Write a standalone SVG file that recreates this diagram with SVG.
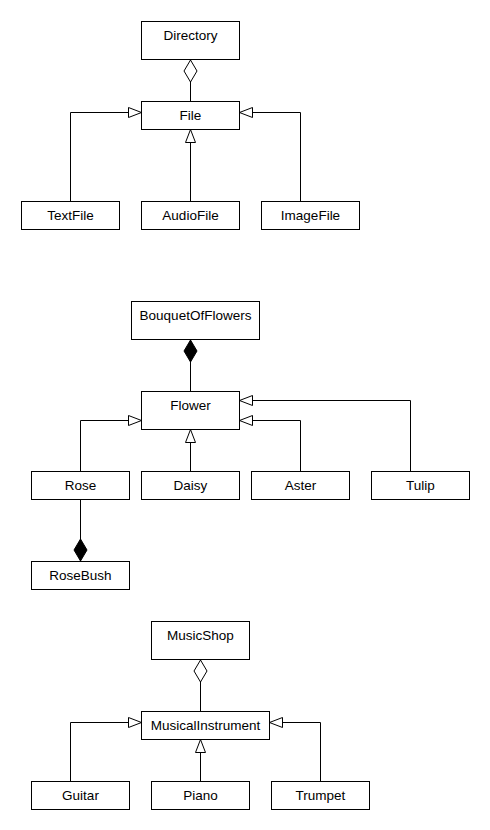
<svg xmlns="http://www.w3.org/2000/svg" width="490" height="830" viewBox="0 0 490 830">
<style>
.box{fill:#fff;stroke:#000;stroke-width:1}
.lbl{font-family:"Liberation Sans",Arial,sans-serif;font-size:13.5px;fill:#000;text-anchor:middle}
.conn{fill:none;stroke:#000;stroke-width:1}
</style>
<defs>
<marker id="gen" viewBox="0 0 13 10" refX="13" refY="5" markerWidth="13" markerHeight="10" markerUnits="userSpaceOnUse" orient="auto" overflow="visible">
<path d="M0,0 L13,5 L0,10 Z" fill="#fff" stroke="#000" stroke-width="1"/>
</marker>
<marker id="agg" viewBox="0 0 22 13" refX="22" refY="6.5" markerWidth="22" markerHeight="13" markerUnits="userSpaceOnUse" orient="auto" overflow="visible">
<path d="M0,6.5 L11,0 L22,6.5 L11,13 Z" fill="#fff" stroke="#000" stroke-width="1"/>
</marker>
<marker id="comp" viewBox="0 0 22 13" refX="22" refY="6.5" markerWidth="22" markerHeight="13" markerUnits="userSpaceOnUse" orient="auto" overflow="visible">
<path d="M0,6.5 L11,0 L22,6.5 L11,13 Z" fill="#000" stroke="#000" stroke-width="1"/>
</marker>
</defs>
<rect width="490" height="830" fill="#fff"/>
<g id="connectors">
<path class="conn" d="M190.5,101.5 V60" marker-end="url(#agg)"/>
<path class="conn" d="M70.5,201.5 V112.5 H141.5" marker-end="url(#gen)"/>
<path class="conn" d="M190.5,201.5 V129.5" marker-end="url(#gen)"/>
<path class="conn" d="M300.5,201.5 V112.5 H239.5" marker-end="url(#gen)"/>
<path class="conn" d="M190.5,391.5 V340" marker-end="url(#comp)"/>
<path class="conn" d="M80.5,471.5 V420.5 H141.5" marker-end="url(#gen)"/>
<path class="conn" d="M190.5,471.5 V429.5" marker-end="url(#gen)"/>
<path class="conn" d="M300.5,471.5 V420.5 H239.5" marker-end="url(#gen)"/>
<path class="conn" d="M410.5,471.5 V400.5 H239.5" marker-end="url(#gen)"/>
<path class="conn" d="M80.5,499.5 V561" marker-end="url(#comp)"/>
<path class="conn" d="M200.5,711.5 V660" marker-end="url(#agg)"/>
<path class="conn" d="M70.5,781.5 V722.5 H141.5" marker-end="url(#gen)"/>
<path class="conn" d="M200.5,781.5 V739.5" marker-end="url(#gen)"/>
<path class="conn" d="M320.5,781.5 V722.5 H269.5" marker-end="url(#gen)"/>
</g>
<g id="directory"><rect class="box" x="141.5" y="21.5" width="98" height="38"/><text class="lbl" x="190.5" y="39.5">Directory</text></g>
<g id="file"><rect class="box" x="141.5" y="101.5" width="98" height="28"/><text class="lbl" x="190.5" y="119.5">File</text></g>
<g id="textfile"><rect class="box" x="21.5" y="201.5" width="98" height="28"/><text class="lbl" x="70.5" y="219.5">TextFile</text></g>
<g id="audiofile"><rect class="box" x="141.5" y="201.5" width="98" height="28"/><text class="lbl" x="190.5" y="219.5">AudioFile</text></g>
<g id="imagefile"><rect class="box" x="261.5" y="201.5" width="98" height="28"/><text class="lbl" x="310.5" y="219.5">ImageFile</text></g>
<g id="bouquet"><rect class="box" x="131.5" y="301.5" width="128" height="38"/><text class="lbl" x="195.5" y="319.5">BouquetOfFlowers</text></g>
<g id="flower"><rect class="box" x="141.5" y="391.5" width="98" height="38"/><text class="lbl" x="190.5" y="409.5">Flower</text></g>
<g id="rose"><rect class="box" x="31.5" y="471.5" width="98" height="28"/><text class="lbl" x="80.5" y="489.5">Rose</text></g>
<g id="daisy"><rect class="box" x="141.5" y="471.5" width="98" height="28"/><text class="lbl" x="190.5" y="489.5">Daisy</text></g>
<g id="aster"><rect class="box" x="251.5" y="471.5" width="98" height="28"/><text class="lbl" x="300.5" y="489.5">Aster</text></g>
<g id="tulip"><rect class="box" x="371.5" y="471.5" width="98" height="28"/><text class="lbl" x="420.5" y="489.5">Tulip</text></g>
<g id="rosebush"><rect class="box" x="31.5" y="561.5" width="98" height="28"/><text class="lbl" x="80.5" y="579.5">RoseBush</text></g>
<g id="musicshop"><rect class="box" x="151.5" y="621.5" width="98" height="38"/><text class="lbl" x="200.5" y="639.5">MusicShop</text></g>
<g id="instrument"><rect class="box" x="141.5" y="711.5" width="128" height="28"/><text class="lbl" x="205.5" y="729.5">MusicalInstrument</text></g>
<g id="guitar"><rect class="box" x="31.5" y="781.5" width="98" height="28"/><text class="lbl" x="80.5" y="799.5">Guitar</text></g>
<g id="piano"><rect class="box" x="151.5" y="781.5" width="98" height="28"/><text class="lbl" x="200.5" y="799.5">Piano</text></g>
<g id="trumpet"><rect class="box" x="271.5" y="781.5" width="98" height="28"/><text class="lbl" x="320.5" y="799.5">Trumpet</text></g>
</svg>
